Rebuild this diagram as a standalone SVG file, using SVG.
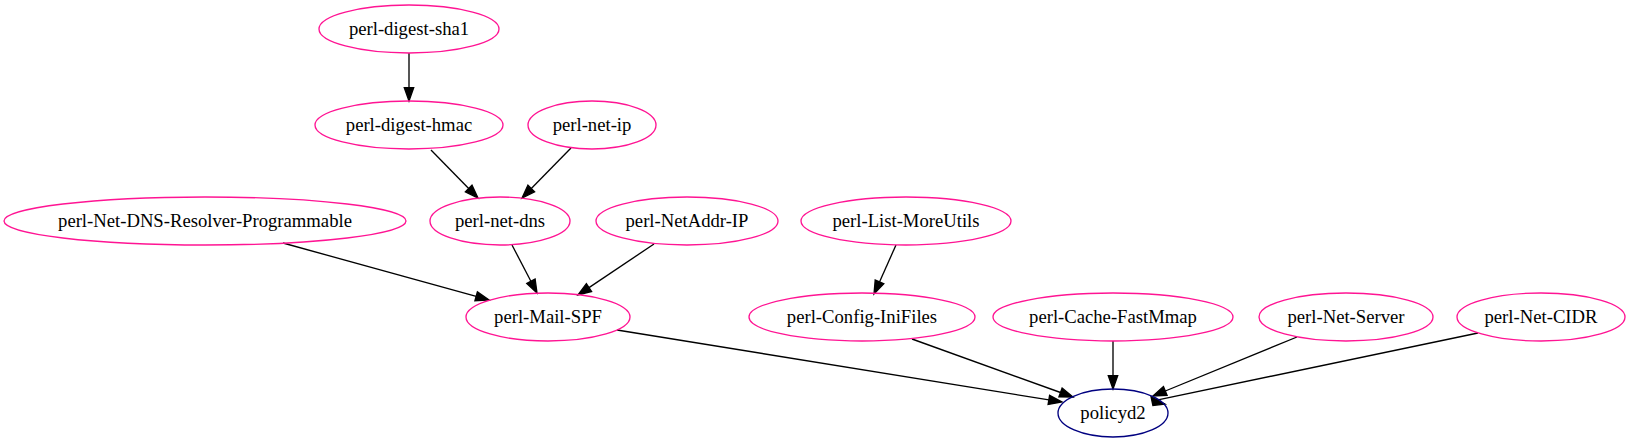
<svg xmlns="http://www.w3.org/2000/svg" width="1632" height="443" viewBox="0 0 1632 443">
<style>
.n ellipse{fill:none;stroke:#ff1493;stroke-width:1.33}
.n.root ellipse{stroke:#000080}
.n text{font-size:18.67px;text-anchor:middle;fill:#000}
#edges line{stroke:#000;stroke-width:1.33}
#edges polygon{fill:#000;stroke:#000;stroke-width:1.33}
</style>
<rect width="1632" height="443" fill="#fff"/>
<g id="edges">
<line x1="409" y1="53" x2="409" y2="87.7"/><polygon points="404.3,87.7 409,101 413.7,87.7"/>
<line x1="431" y1="150" x2="468.7" y2="188.5"/><polygon points="465.4,191.8 478,198 472,185.2"/>
<line x1="571" y1="148" x2="531.3" y2="188.5"/><polygon points="527.9,185.2 522,198 534.6,191.8"/>
<line x1="283" y1="243" x2="476.2" y2="296.4"/><polygon points="477.4,291.9 489,300 474.9,300.9"/>
<line x1="512" y1="245" x2="530.9" y2="281.2"/><polygon points="526.8,283.4 537,293 535.1,279.1"/>
<line x1="654" y1="244" x2="589" y2="287.6"/><polygon points="586.4,283.7 578,295 591.6,291.5"/>
<line x1="896" y1="245" x2="879.5" y2="281.9"/><polygon points="875.2,280 874,294 883.8,283.8"/>
<line x1="617" y1="330" x2="1048.9" y2="399.9"/><polygon points="1049.6,395.3 1062,402 1048.1,404.5"/>
<line x1="912" y1="339" x2="1060.5" y2="392.5"/><polygon points="1062.1,388.1 1073,397 1058.9,396.9"/>
<line x1="1113" y1="341" x2="1113" y2="375.7"/><polygon points="1108.3,375.7 1113,389 1117.7,375.7"/>
<line x1="1297" y1="337" x2="1165.3" y2="391"/><polygon points="1163.5,386.6 1153,396 1167.1,395.3"/>
<line x1="1478" y1="333" x2="1152" y2="401.1"/><polygon points="1151,396.5 1165,404 1152.9,405.6"/>
</g>
<g font-family="Liberation Serif, Times New Roman, DejaVu Serif, serif">
<g id="perl-digest-sha1" class="n"><ellipse cx="409" cy="29" rx="90" ry="24"/><text x="409" y="35">perl-digest-sha1</text></g>
<g id="perl-digest-hmac" class="n"><ellipse cx="409" cy="125" rx="94" ry="24"/><text x="409" y="131">perl-digest-hmac</text></g>
<g id="perl-net-ip" class="n"><ellipse cx="592" cy="125" rx="64" ry="24"/><text x="592" y="131">perl-net-ip</text></g>
<g id="perl-Net-DNS-Resolver-Programmable" class="n"><ellipse cx="205" cy="221" rx="201" ry="24"/><text x="205" y="227">perl-Net-DNS-Resolver-Programmable</text></g>
<g id="perl-net-dns" class="n"><ellipse cx="500" cy="221" rx="70" ry="24"/><text x="500" y="227">perl-net-dns</text></g>
<g id="perl-NetAddr-IP" class="n"><ellipse cx="687" cy="221" rx="91" ry="24"/><text x="687" y="227">perl-NetAddr-IP</text></g>
<g id="perl-List-MoreUtils" class="n"><ellipse cx="906" cy="221" rx="105" ry="24"/><text x="906" y="227">perl-List-MoreUtils</text></g>
<g id="perl-Mail-SPF" class="n"><ellipse cx="548" cy="317" rx="82" ry="24"/><text x="548" y="323">perl-Mail-SPF</text></g>
<g id="perl-Config-IniFiles" class="n"><ellipse cx="862" cy="317" rx="113" ry="24"/><text x="862" y="323">perl-Config-IniFiles</text></g>
<g id="perl-Cache-FastMmap" class="n"><ellipse cx="1113" cy="317" rx="120" ry="24"/><text x="1113" y="323">perl-Cache-FastMmap</text></g>
<g id="perl-Net-Server" class="n"><ellipse cx="1346" cy="317" rx="87" ry="24"/><text x="1346" y="323">perl-Net-Server</text></g>
<g id="perl-Net-CIDR" class="n"><ellipse cx="1541" cy="317" rx="84" ry="24"/><text x="1541" y="323">perl-Net-CIDR</text></g>
<g id="policyd2" class="n root"><ellipse cx="1113" cy="413" rx="55" ry="24"/><text x="1113" y="419">policyd2</text></g>
</g>
</svg>
